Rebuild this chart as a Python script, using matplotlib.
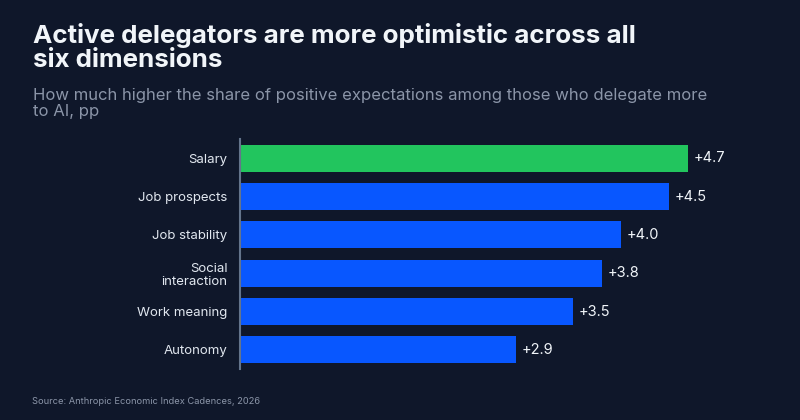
import matplotlib
matplotlib.use("Agg")
import matplotlib.pyplot as plt

categories = ["Salary", "Job prospects", "Job stability", "Social\ninteraction", "Work meaning", "Autonomy"]
values = [4.7, 4.5, 4.0, 3.8, 3.5, 2.9]
labels = ["+4.7", "+4.5", "+4.0", "+3.8", "+3.5", "+2.9"]
highlight = "Salary"

title = "Active delegators are more optimistic across all\nsix dimensions"
subtitle = "How much higher the share of positive expectations among those who delegate more\nto AI, pp"
source = "Source: Anthropic Economic Index Cadences, 2026"

bg = "#0f172a"
plt.rcParams["font.family"] = ["Inter", "DejaVu Sans"]

fig = plt.figure(figsize=(8, 4.2), dpi=100, facecolor=bg)
ax = fig.add_axes([0.3, 0.1214, 0.675, 0.5476], facecolor=bg)

colors = ["#22c55e" if c == highlight else "#0857ff" for c in categories]
ypos = range(len(categories))
ax.barh(ypos, values, height=0.7, color=colors)
for y, v, lab in zip(ypos, values, labels):
    ax.text(v + 0.06, y, lab, va="center", ha="left", color="#f1f5f9", fontsize=10.5)

ax.set_xlim(0, 5.67)
ax.set_ylim(5.5, -0.5)
ax.set_yticks(list(ypos))
ax.set_yticklabels(categories, color="#e2e8f0", fontsize=9.5, linespacing=1.1)
ax.tick_params(axis="y", length=0, pad=9)
ax.set_xticks([])
for s in ["top", "right", "bottom"]:
    ax.spines[s].set_visible(False)
ax.spines["left"].set_color("#64748b")
ax.spines["left"].set_linewidth(1.5)

fig.text(0.041, 0.945, title, ha="left", va="top", color="#f1f5f9",
         fontsize=18.7, fontweight="bold", linespacing=1.03)
fig.text(0.041, 0.79, subtitle, ha="left", va="top", color="#8b95a8",
         fontsize=12, linespacing=1.1)
fig.text(0.04, 0.043, source, ha="left", va="center", color="#8b95a8", fontsize=6.7)

fig.savefig("out.png", facecolor=bg)
